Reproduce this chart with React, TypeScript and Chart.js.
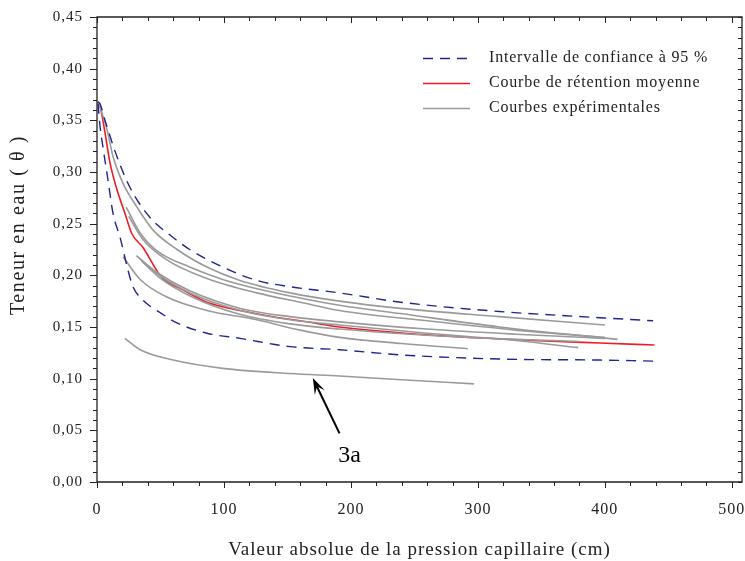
import React, { useEffect, useRef } from "react";
import { Chart, registerables } from "chart.js";

Chart.register(...registerables);

type P = { x: number; y: number };
const pts = (a: number[][]): P[] => a.map(([x, y]) => ({ x, y }));

// Confidence interval (95 %)
const upperCI = [[0.8,0.368],[2.4,0.366],[6.3,0.350],[15.7,0.315],[26,0.285],[41.7,0.256],[57.5,0.239],[73,0.225],[99,0.208],[126,0.195],[152,0.189],[191,0.183],[239,0.174],[317,0.165],[396,0.159],[438,0.156]];
const lowerCI = [[0.8,0.366],[2.4,0.344],[4.7,0.324],[8.7,0.292],[12.6,0.260],[18.1,0.237],[24.4,0.205],[28.3,0.189],[36.2,0.176],[49.6,0.164],[63,0.154],[86.6,0.144],[112.6,0.139],[152,0.131],[191,0.128],[239,0.123],[317,0.119],[396,0.118],[439,0.117]];
// Mean retention curve
const meanCurve = [[0.8,0.368],[2.4,0.364],[6.3,0.338],[10.2,0.309],[15.7,0.283],[22,0.260],[27.6,0.240],[36.2,0.227],[51,0.198],[67.7,0.186],[86.6,0.174],[112.6,0.166],[138.6,0.160],[165,0.155],[191,0.150],[264.6,0.142],[343,0.137],[396,0.1345],[439,0.1326]];
// Experimental curves
const exp1 = [[0.8,0.368],[7.9,0.341],[12.6,0.315],[20.5,0.289],[31.5,0.266],[44,0.244],[63,0.225],[86.6,0.208],[112.6,0.195],[152,0.183],[191,0.175],[239,0.168],[317,0.160],[400,0.152]];
const exp2 = [[23,0.266],[34,0.241],[47,0.224],[73,0.208],[99,0.196],[126,0.187],[152,0.180],[191,0.171],[239,0.163],[317,0.150],[410,0.138]];
const exp3 = [[25,0.257],[36,0.235],[55,0.215],[86.6,0.197],[126,0.183],[160,0.174],[191,0.166],[260,0.156],[330,0.147],[400,0.140]];
const exp4 = [[31,0.219],[47,0.203],[73,0.185],[113,0.168],[152,0.160],[191,0.155],[260,0.148],[330,0.143],[400,0.139]];
const exp5 = [[33,0.217],[49,0.200],[75,0.182],[113,0.166],[152,0.157],[191,0.152],[260,0.144],[330,0.137],[379,0.130]];
const exp6 = [[35,0.214],[50,0.197],[75,0.179],[113,0.162],[152,0.153],[191,0.148],[260,0.142],[330,0.138],[380,0.136]];
const exp7 = [[20.5,0.218],[34,0.196],[55,0.179],[86.6,0.166],[126,0.157],[160,0.147],[191,0.140],[240,0.134],[292,0.129]];
const exp3a = [[22,0.139],[34,0.128],[60,0.118],[99,0.110],[152,0.105],[191,0.1026],[240,0.099],[297,0.095]];

const xTicks = [0, 100, 200, 300, 400, 500];
const yTicks = [0, 0.05, 0.1, 0.15, 0.2, 0.25, 0.3, 0.35, 0.4, 0.45];
const xTitle = "Valeur absolue de la pression capillaire (cm)";
const yTitle = "Teneur en eau ( θ )";
const legendLabels = ["Intervalle de confiance à 95 %", "Courbe de rétention moyenne", "Courbes expérimentales"];
const annotationText = "3a";
const arrowHead = [170, 0.1006];
const arrowTail = [191, 0.047];
const annotationPos = [199, 0.025];

const BLUE = "#1f2590";
const RED = "#ee1c25";
const GRAY = "#9a9a9a";
const FONT = "'Liberation Serif', 'Times New Roman', serif";

export default function App() {
  const ref = useRef<HTMLCanvasElement>(null);
  useEffect(() => {
    const canvas = ref.current!;
    const lineBase = { pointRadius: 0, fill: false, tension: 0.4, cubicInterpolationMode: "monotone" };
    const grayDs = [exp1, exp2, exp3, exp4, exp5, exp6, exp7, exp3a].map((d) => ({
      data: pts(d), borderColor: GRAY, borderWidth: 1.6, ...lineBase,
    }));
    const ciStyle = { borderColor: BLUE, borderWidth: 1.4, borderDash: [10, 7], ...lineBase };

    const boxPlugin = {
      id: "boxTicks",
      beforeDraw(chart: any) {
        (chart.ctx as any).letterSpacing = "1px";
      },
      afterDraw(chart: any) {
        const ctx = chart.ctx as CanvasRenderingContext2D;
        const xs = chart.scales.x, ys = chart.scales.y;
        const { left, right, top, bottom } = chart.chartArea;
        ctx.save();
        ctx.strokeStyle = "#222";
        ctx.lineWidth = 1.3;
        ctx.beginPath();
        ctx.rect(left, top, right - left, bottom - top);
        ctx.stroke();
        ctx.lineWidth = 1;
        for (let v = 0; v <= 500; v += 20) {
          const px = Math.round(xs.getPixelForValue(v)) + 0.5;
          const major = v % 100 === 0;
          const len = major ? 6 : 4;
          ctx.beginPath();
          ctx.moveTo(px, bottom); ctx.lineTo(px, bottom + len);
          ctx.moveTo(px, top); ctx.lineTo(px, top + len);
          ctx.stroke();
        }
        for (let i = 0; i <= 45; i++) {
          const py = Math.round(ys.getPixelForValue(i / 100)) + 0.5;
          const major = i % 5 === 0;
          const len = major ? 7 : 4;
          ctx.beginPath();
          ctx.moveTo(left, py); ctx.lineTo(left - len, py);
          ctx.moveTo(right, py); ctx.lineTo(right - 4, py);
          ctx.stroke();
        }
        // y-axis title
        ctx.save();
        (ctx as any).letterSpacing = "1.6px";
        ctx.font = `20px ${FONT}`;
        ctx.fillStyle = "#222";
        ctx.textAlign = "center";
        ctx.textBaseline = "middle";
        ctx.translate(19, 225);
        ctx.rotate(-Math.PI / 2);
        ctx.fillText(yTitle, 0, 0);
        ctx.restore();
        // legend
        (ctx as any).letterSpacing = "0.8px";
        ctx.font = `16px ${FONT}`;
        ctx.textBaseline = "middle";
        ctx.fillStyle = "#222";
        const lx0 = 423, lx1 = 470, tx = 489;
        const rows = [58, 83, 108];
        const styles = [{ c: BLUE, d: [10, 7] }, { c: RED, d: [] }, { c: GRAY, d: [] }];
        rows.forEach((ry, i) => {
          ctx.save();
          ctx.strokeStyle = styles[i].c;
          ctx.lineWidth = i === 0 ? 1.4 : 1.6;
          ctx.setLineDash(styles[i].d);
          ctx.beginPath(); ctx.moveTo(lx0, ry + 0.5); ctx.lineTo(lx1, ry + 0.5); ctx.stroke();
          ctx.restore();
          ctx.fillText(legendLabels[i], tx, ry);
        });
        // annotation arrow
        const hx = xs.getPixelForValue(arrowHead[0]), hy = ys.getPixelForValue(arrowHead[1]);
        const tx2 = xs.getPixelForValue(arrowTail[0]), ty2 = ys.getPixelForValue(arrowTail[1]);
        ctx.strokeStyle = "#000";
        ctx.lineWidth = 2;
        const ang = Math.atan2(hy - ty2, hx - tx2);
        const L = 17, W = 0.33;
        ctx.beginPath(); ctx.moveTo(tx2, ty2); ctx.lineTo(hx - 8 * Math.cos(ang), hy - 8 * Math.sin(ang)); ctx.stroke();
        ctx.fillStyle = "#000";
        ctx.beginPath();
        ctx.moveTo(hx, hy);
        ctx.lineTo(hx - L * Math.cos(ang - W), hy - L * Math.sin(ang - W));
        ctx.lineTo(hx - L * 0.55 * Math.cos(ang), hy - L * 0.55 * Math.sin(ang));
        ctx.lineTo(hx - L * Math.cos(ang + W), hy - L * Math.sin(ang + W));
        ctx.closePath(); ctx.fill();
        (ctx as any).letterSpacing = "0px";
        ctx.font = `24px ${FONT}`;
        ctx.textAlign = "center";
        ctx.fillText(annotationText, xs.getPixelForValue(annotationPos[0]), ys.getPixelForValue(annotationPos[1]));
        ctx.restore();
      },
    };

    const chart = new Chart(canvas, {
      type: "line",
      data: {
        datasets: [
          { data: pts(upperCI), ...ciStyle },
          { data: pts(lowerCI), ...ciStyle },
          ...grayDs,
          { data: pts(meanCurve), borderColor: RED, borderWidth: 1.6, ...lineBase },
        ] as any,
      },
      options: {
        animation: false,
        responsive: false,
        maintainAspectRatio: false,
        layout: { padding: { top: 17, right: 3, left: 0, bottom: 0 } },
        plugins: { legend: { display: false }, tooltip: { enabled: false } },
        scales: {
          x: {
            type: "linear", min: 0, max: 508,
            afterBuildTicks: (s: any) => { s.ticks = xTicks.map((v) => ({ value: v })); },
            afterFit: (s: any) => { s.height = 79; s.paddingLeft = 0; s.paddingRight = 0; },
            grid: { display: false, drawTicks: false },
            border: { display: false },
            ticks: { color: "#222", font: { family: FONT, size: 16 }, padding: 18, maxRotation: 0, callback: (v: any) => String(v) },
            title: { display: true, text: xTitle, color: "#222", font: { family: FONT, size: 19 }, padding: { top: 1, bottom: 0 } },
          },
          y: {
            type: "linear", min: 0, max: 0.45,
            afterBuildTicks: (s: any) => { s.ticks = yTicks.map((v) => ({ value: v })); },
            afterFit: (s: any) => { s.width = 97; s.paddingTop = 0; s.paddingBottom = 0; },
            grid: { display: false, drawTicks: false },
            border: { display: false },
            ticks: { color: "#222", font: { family: FONT, size: 15 }, padding: 14, callback: (v: any) => Number(v).toFixed(2).replace(".", ",") },
          },
        },
      },
      plugins: [boxPlugin],
    });
    return () => chart.destroy();
  }, []);
  return (
    <div style={{ position: "absolute", left: 0, top: 0, width: 745, height: 561, background: "#fff" }}>
      <canvas ref={ref} width={745} height={561} style={{ display: "block" }} />
    </div>
  );
}
